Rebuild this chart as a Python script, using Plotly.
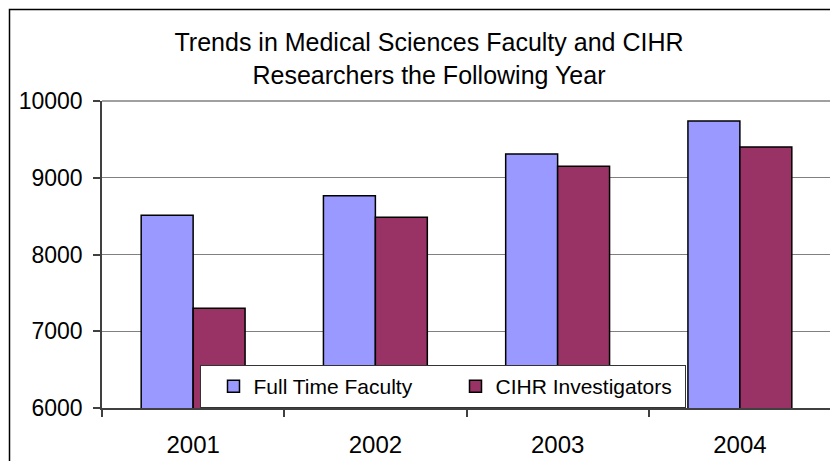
import plotly.graph_objects as go

years = ["2001", "2002", "2003", "2004"]
full_time_faculty = [8510, 8765, 9310, 9740]
cihr_investigators = [7300, 8485, 9150, 9400]
y_ticks = [6000, 7000, 8000, 9000, 10000]

# page body has an 8px margin, so the figure is drawn 8px right/down
OFF = 8
W, H = 838 - OFF, 461 - OFF
L, R, T, B = 102 - OFF, 7, 101 - OFF, 53
pw, ph = W - L - R, H - T - B

def xp(px):
    return (px - OFF - L) / pw

def yp(py):
    return (H - B - (py - OFF)) / ph

font = "Arial, Liberation Sans, sans-serif"

fig = go.Figure()
fig.add_trace(go.Bar(x=years, y=full_time_faculty, name="Full Time Faculty",
                     marker=dict(color="#9999FF", line=dict(color="#000000", width=1.5))))
fig.add_trace(go.Bar(x=years, y=cihr_investigators, name="CIHR Investigators",
                     marker=dict(color="#993366", line=dict(color="#000000", width=1.5))))

fig.update_layout(
    width=W, height=H,
    margin=dict(l=L, r=R, t=T, b=B, pad=0, autoexpand=False),
    paper_bgcolor="white", plot_bgcolor="white",
    barmode="group", bargap=0.43, bargroupgap=0,
    font=dict(family=font, size=22, color="#000000"),
    title=dict(text="Trends in Medical Sciences Faculty and CIHR<br>Researchers the Following Year",
               x=(429 - OFF) / W, xanchor="center", xref="container",
               y=1 - (51 - OFF) / H, yanchor="middle", yref="container",
               font=dict(family=font, size=25, color="#000000")),
    showlegend=True,
    legend=dict(orientation="h", x=xp(199.5), xanchor="left", y=0, yanchor="bottom",
                bgcolor="white", bordercolor="#333333", borderwidth=1,
                font=dict(family=font, size=21, color="#000000"),
                indentation=13, entrywidth=184, traceorder="normal"),
    xaxis=dict(type="category", range=[-0.5, 3.5], showgrid=False, automargin=False,
               showline=True, linecolor="#404040", linewidth=1.5,
               ticks="outside", ticklen=7, tickcolor="#404040", tickwidth=1.5,
               tickson="boundaries", ticklabelstandoff=14,
               tickfont=dict(family=font, size=24, color="#000000")),
    yaxis=dict(range=[6000, 10000], tickvals=y_ticks, tickformat="d", showgrid=True,
               automargin=False,
               gridcolor="#808080", gridwidth=1, zeroline=False,
               showline=True, linecolor="#404040", linewidth=1.5,
               ticks="outside", ticklen=7, tickcolor="#404040", tickwidth=1.5,
               ticklabelstandoff=6,
               tickfont=dict(family=font, size=23, color="#000000")),
    shapes=[
        dict(type="line", xref="paper", yref="paper", x0=0, x1=1, y0=1, y1=1,
             line=dict(color="#808080", width=1.5), layer="below"),
        dict(type="line", xref="paper", yref="paper", x0=1, x1=1, y0=0, y1=1,
             line=dict(color="#999999", width=1.5), layer="below"),
        dict(type="rect", xref="paper", yref="paper",
             x0=xp(9.5), x1=xp(860), y0=yp(9.5), y1=yp(480),
             line=dict(color="#000000", width=1.5), fillcolor="rgba(0,0,0,0)"),
    ],
)

fig.write_html("out.html")
